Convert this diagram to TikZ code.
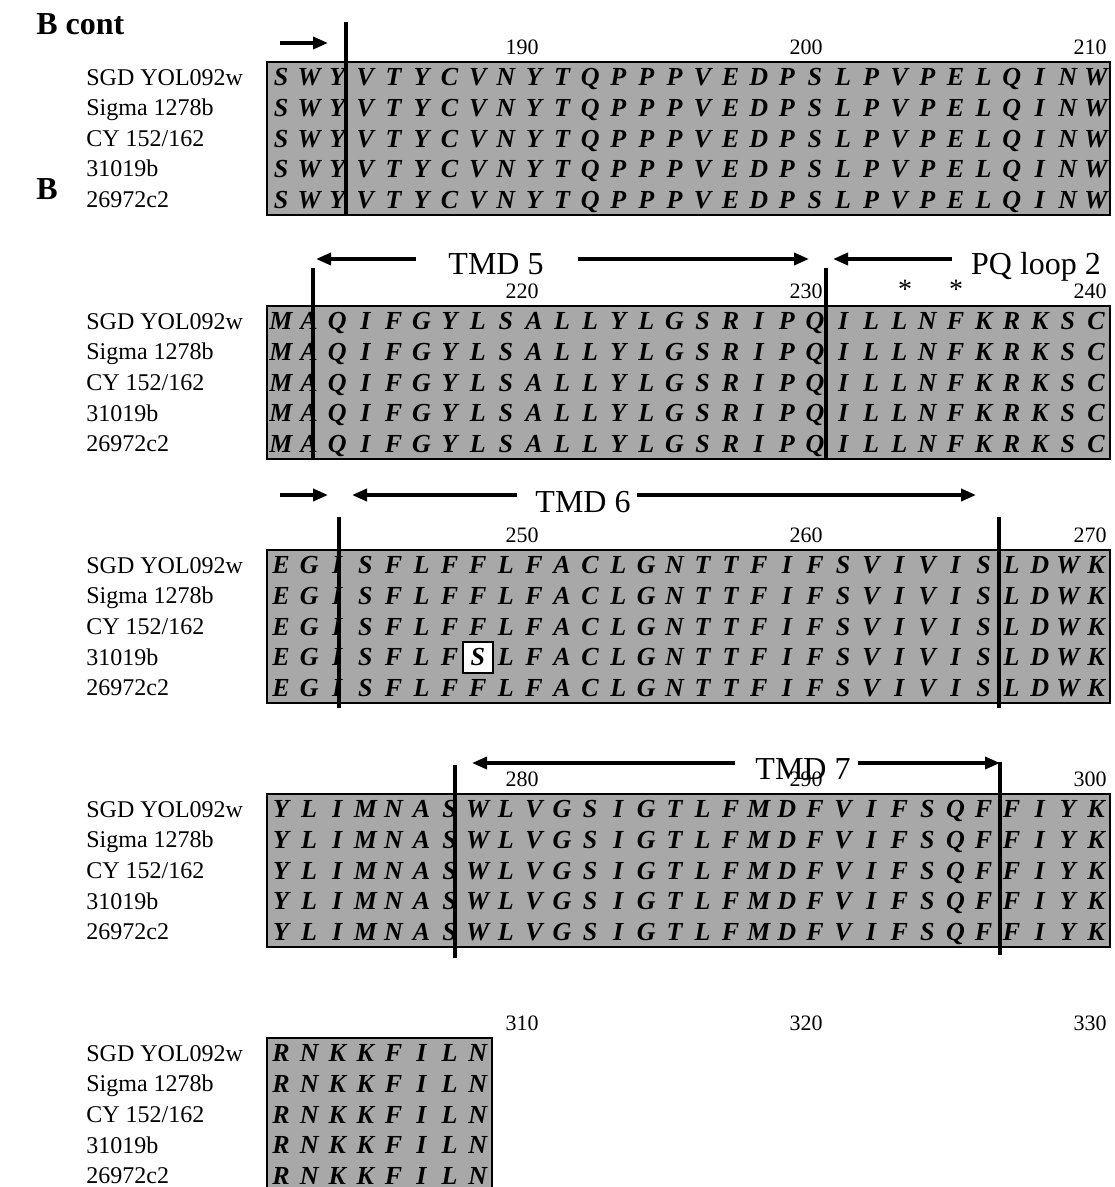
\documentclass[tikz,border=0pt]{standalone}
\usepackage{fontspec}
\setmainfont{Liberation Serif}
\usetikzlibrary{arrows.meta}
\definecolor{seqgray}{HTML}{A8A8A8}

\begin{document}
\begin{tikzpicture}[x=0.5pt, y=-0.5pt,
  seqbox/.style={draw=black, line width=1.3pt, fill=seqgray},
  aa/.style={font=\fontsize{13}{13}\selectfont\bfseries\itshape, inner sep=0pt, text height=8.6pt, text depth=0pt},
  strain/.style={anchor=west, font=\fontsize{12}{12}\selectfont, inner sep=0pt, text height=7.9pt, text depth=0pt},
  resnum/.style={font=\fontsize{11}{11}\selectfont, inner sep=0pt},
  region/.style={font=\fontsize{16}{16}\selectfont, inner sep=0pt, text height=10.6pt, text depth=0pt},
  panel/.style={anchor=west, font=\fontsize{16}{16}\selectfont\bfseries, inner sep=0pt, text height=10.6pt, text depth=0pt},
  border/.style={line width=1.6pt},
  span/.style={-{Triangle[length=7.5pt, width=6pt]}, line width=1.8pt},
  mutbox/.style={draw=black, line width=1pt, fill=white, minimum width=15pt, minimum height=15.5pt},
]
\useasboundingbox (0,0) rectangle (1114,1187);

\node[panel] (pcont) at (36,24) {B cont};
\node[panel] (pb) at (36,189) {B};

% alignment blocks
\foreach \blk/\ytop/\ncol/\first/\seq in {
  1/62/30/190/{S,W,Y,V,T,Y,C,V,N,Y,T,Q,P,P,P,V,E,D,P,S,L,P,V,P,E,L,Q,I,N,W},
  2/306/30/220/{M,A,Q,I,F,G,Y,L,S,A,L,L,Y,L,G,S,R,I,P,Q,I,L,L,N,F,K,R,K,S,C},
  3/550/30/250/{E,G,I,S,F,L,F,F,L,F,A,C,L,G,N,T,T,F,I,F,S,V,I,V,I,S,L,D,W,K},
  4/794/30/280/{Y,L,I,M,N,A,S,W,L,V,G,S,I,G,T,L,F,M,D,F,V,I,F,S,Q,F,F,I,Y,K},
  5/1038/8/310/{R,N,K,K,F,I,L,N}%
}{
  \draw[seqbox] (267,\ytop) rectangle ({267+\ncol*28.1},{\ytop+153});
  \foreach \xn [count=\i from 0] in {522,806,1090} {
    \pgfmathtruncatemacro\lbl{\first+10*\i}
    \node[resnum] (n\blk-\i) at (\xn,{\ytop-15}) {\lbl};
  }
  \foreach \name [count=\row] in {SGD YOL092w,Sigma 1278b,{CY 152/162},31019b,26972c2} {
    \node[strain] (s\blk-\row) at (86,{\ytop+15.3+(\row-1)*30.6}) {\name};
    \foreach \ch [count=\col] in \seq
      \node[aa] (a\blk-\row-\col) at ({267+(\col-0.5)*28.1},{\ytop+15.3+(\row-1)*30.6}) {\ch};
  }
}

% substitution in 31019b
\node[aa, mutbox] (mut) at (a3-4-8.center) {S};

% block 1
\draw[border] (346,22) -- (346,215);
\coordinate (r1s) at (280,43);
\coordinate (r1e) at (328,43);
\draw[span] (r1s) -- (r1e);

% block 2
\draw[border] (313,268) -- (313,459);
\draw[border] (826,268) -- (826,459);
\node[region] (tmd5) at (496,264) {TMD 5};
\node[region] (pq2) at (1036,264) {PQ loop 2};
\coordinate (t5l) at (316,259);
\coordinate (t5r) at (809,259);
\coordinate (pql) at (833,259);
\draw[span, shorten <=16pt] (tmd5.west |- t5l) -- (t5l);
\draw[span, shorten <=17pt] (tmd5.east |- t5r) -- (t5r);
\draw[span, shorten <=9.5pt] (pq2.west |- pql) -- (pql);
\node[resnum, font=\fontsize{14}{14}\selectfont] (ast1) at (905,289) {*};
\node[resnum, font=\fontsize{14}{14}\selectfont] (ast2) at (956,289) {*};

% block 3
\draw[border] (339,517) -- (339,708);
\draw[border] (999,517) -- (999,708);
\coordinate (r3s) at (280,495);
\coordinate (r3e) at (328,495);
\draw[span] (r3s) -- (r3e);
\node[region] (tmd6) at (583,502) {TMD 6};
\coordinate (t6l) at (352,495);
\coordinate (t6r) at (976,495);
\draw[span, shorten <=9pt] (tmd6.west |- t6l) -- (t6l);
\draw[span, shorten <=3pt] (tmd6.east |- t6r) -- (t6r);

% block 4
\draw[border] (455,765) -- (455,958);
\draw[border] (1000,762) -- (1000,955);
\node[region] (tmd7) at (803,769) {TMD 7};
\coordinate (t7l) at (472,763);
\coordinate (t7r) at (1000,763);
\draw[span, shorten <=10pt] (tmd7.west |- t7l) -- (t7l);
\draw[span, shorten <=3.5pt] (tmd7.east |- t7r) -- (t7r);

\end{tikzpicture}
\end{document}
